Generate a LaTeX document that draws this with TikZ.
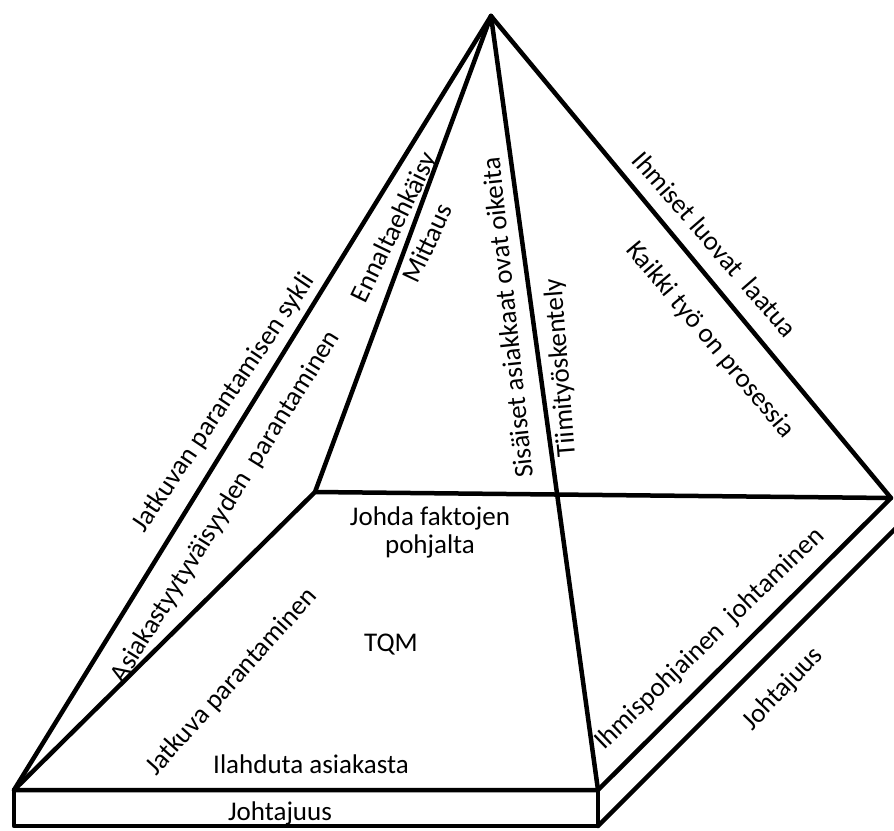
\documentclass[tikz,border=0pt]{standalone}
\usepackage{fontspec}
\setmainfont{Carlito}
\begin{document}
\begin{tikzpicture}[x=1pt,y=-1pt,
  edge/.style={line width=4.5pt, line cap=round, line join=round},
  lbl/.style={inner sep=0pt, font=\fontsize{27}{28}\selectfont, text=black}]
\useasboundingbox (0,0) rectangle (894,830);

% pyramid corners
\coordinate (apex) at (491,16);
\coordinate (fl) at (14,790);
\coordinate (bl) at (315,492);
\coordinate (fr) at (598,790);
\coordinate (br) at (891,498);
% plinth under the base
\coordinate (flb) at (14,826);
\coordinate (frb) at (598,826);
\coordinate (brb) at (904,520);

% plinth
\draw[edge] (fl) -- (flb) -- (frb) -- (fr);
\draw[edge] (frb) -- (brb);
% base
\draw[edge] (fl) -- (fr) -- (br) -- (bl) -- cycle;
% edges to the apex
\draw[edge] (apex) -- (fl);
\draw[edge] (apex) -- (bl);
\draw[edge] (apex) -- (fr);
\draw[edge] (apex) -- (br);

% labels on the faces
\node[lbl, rotate=56] (sykli) at (224,403) {Jatkuvan parantamisen sykli};
\node[lbl, rotate=58] (asiakas) at (226,507) {Asiakastyytyväisyyden\ \ parantaminen};
\node[lbl, rotate=64] (ennalta) at (395,228) {Ennaltaehkäisy};
\node[lbl, rotate=65] (mittaus) at (427,243) {Mittaus};
\node[lbl, rotate=96] (sisaiset) at (507,318) {Sisäiset asiakkaat ovat oikeita};
\node[lbl, rotate=94.5] (tiimi) at (561,368) {Tiimityöskentely};
\node[lbl, rotate=-49] (ihmiset) at (715,244) {Ihmiset luovat\ \ laatua};
\node[lbl, rotate=-50] (kaikki) at (710,340) {Kaikki työ on prosessia};

% labels on the base
\node[lbl, align=center] (faktat) at (430,532) {Johda faktojen\\pohjalta};
\node[lbl] (tqm) at (391,645) {TQM};
\node[lbl, rotate=48] (jatkuva) at (232,682) {Jatkuva parantaminen};
\node[lbl] (ilahduta) at (311,764) {Ilahduta asiakasta};
\node[lbl, rotate=44] (ihmispohj) at (710,639) {Ihmispohjainen\ \ johtaminen};

% labels on the plinth
\node[lbl] (johtajuus) at (280,813) {Johtajuus};
\node[lbl, rotate=46] (johtajuus2) at (783,689) {Johtajuus};
\end{tikzpicture}
\end{document}
